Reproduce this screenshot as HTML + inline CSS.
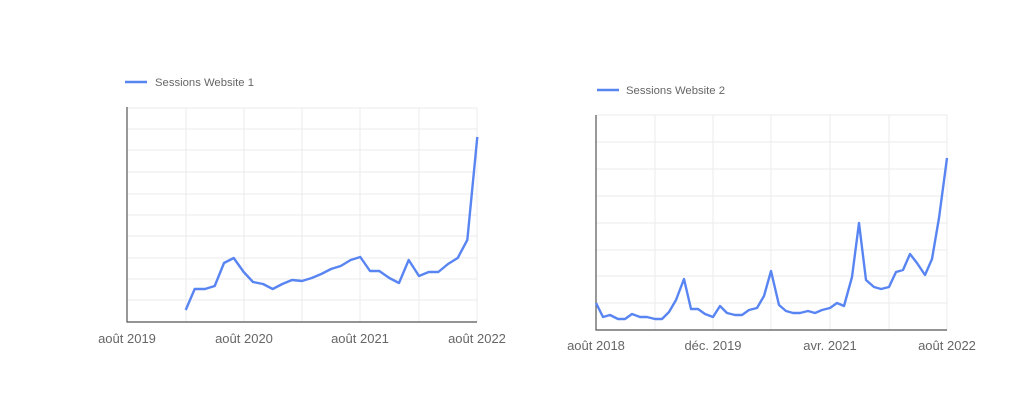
<!DOCTYPE html>
<html><head><style>
html,body{margin:0;padding:0;background:#fff;}
svg{display:block;}
text{font-family:"Liberation Sans",sans-serif;fill:#666;}
</style></head><body>
<svg width="1024" height="419" viewBox="0 0 1024 419">
<g stroke="#ebebeb" stroke-width="1">
<line x1="127" x2="477" y1="108" y2="108"/><line x1="127" x2="477" y1="129" y2="129"/><line x1="127" x2="477" y1="150" y2="150"/><line x1="127" x2="477" y1="172" y2="172"/><line x1="127" x2="477" y1="194" y2="194"/><line x1="127" x2="477" y1="215" y2="215"/><line x1="127" x2="477" y1="236" y2="236"/><line x1="127" x2="477" y1="258" y2="258"/><line x1="127" x2="477" y1="279" y2="279"/><line x1="127" x2="477" y1="300" y2="300"/>
<line x1="186" x2="186" y1="108" y2="322"/><line x1="244" x2="244" y1="108" y2="322"/><line x1="302" x2="302" y1="108" y2="322"/><line x1="360" x2="360" y1="108" y2="322"/><line x1="419" x2="419" y1="108" y2="322"/><line x1="477" x2="477" y1="108" y2="322"/>
<line x1="596" x2="947" y1="115" y2="115"/><line x1="596" x2="947" y1="142" y2="142"/><line x1="596" x2="947" y1="169" y2="169"/><line x1="596" x2="947" y1="196" y2="196"/><line x1="596" x2="947" y1="223" y2="223"/><line x1="596" x2="947" y1="250" y2="250"/><line x1="596" x2="947" y1="276" y2="276"/><line x1="596" x2="947" y1="303" y2="303"/>
<line x1="655" x2="655" y1="115" y2="330"/><line x1="713" x2="713" y1="115" y2="330"/><line x1="771" x2="771" y1="115" y2="330"/><line x1="830" x2="830" y1="115" y2="330"/><line x1="889" x2="889" y1="115" y2="330"/><line x1="947" x2="947" y1="115" y2="330"/>
</g>
<g stroke="#555" stroke-width="1.2" fill="none">
<polyline points="127,107 127,322 477,322"/>
<polyline points="596,115 596,330 947,330"/>
</g>
<g stroke="#5885f2" stroke-width="2.4" fill="none" stroke-linejoin="round">
<line x1="125" x2="147" y1="82" y2="82"/>
<line x1="597" x2="619" y1="90" y2="90"/>
<polyline points="185.7,310 194.7,289 205,289 214.7,286 224,263 233.7,258 243.7,272 253,282 263,284 272.7,289 282.3,284 292,280 302,281 311.7,278 321.3,274 331,269 340.7,266 350.7,260 360.3,257 370,271 379.3,271 389.3,278 399,283 408.7,260 419,276 428.7,272 438.3,272 448,264 457.7,258 467.3,240 477.3,137"/>
<polyline points="596,303 603,317 610,315 618,319 625,319 632,314 640,317 647,317 655,319 662,319 669,312 676,300 684,279 691,309 698,309 705,314 713,317 720,306 727,313 735,315 742,315 749,310 757,308 764,296 771,271 779,305 786,311 793,313 800,313 808,311 815,313 822,310 830,308 837,303 844,306 852,277 859,223 866,280 874,287 881,289 889,287 896,272 903,270 910,254 917,263 925,275 932,259 939,218 947,158"/>
</g>
<text x="155" y="86" font-size="11.3">Sessions Website 1</text>
<text x="626" y="94" font-size="11.3">Sessions Website 2</text>
<g font-size="13" text-anchor="middle">
<text x="127" y="343">août 2019</text><text x="244" y="343">août 2020</text><text x="360" y="343">août 2021</text><text x="477" y="343">août 2022</text>
<text x="596" y="350">août 2018</text><text x="713" y="350">déc. 2019</text><text x="830" y="350">avr. 2021</text><text x="947" y="350">août 2022</text>
</g>
</svg>
</body></html>
